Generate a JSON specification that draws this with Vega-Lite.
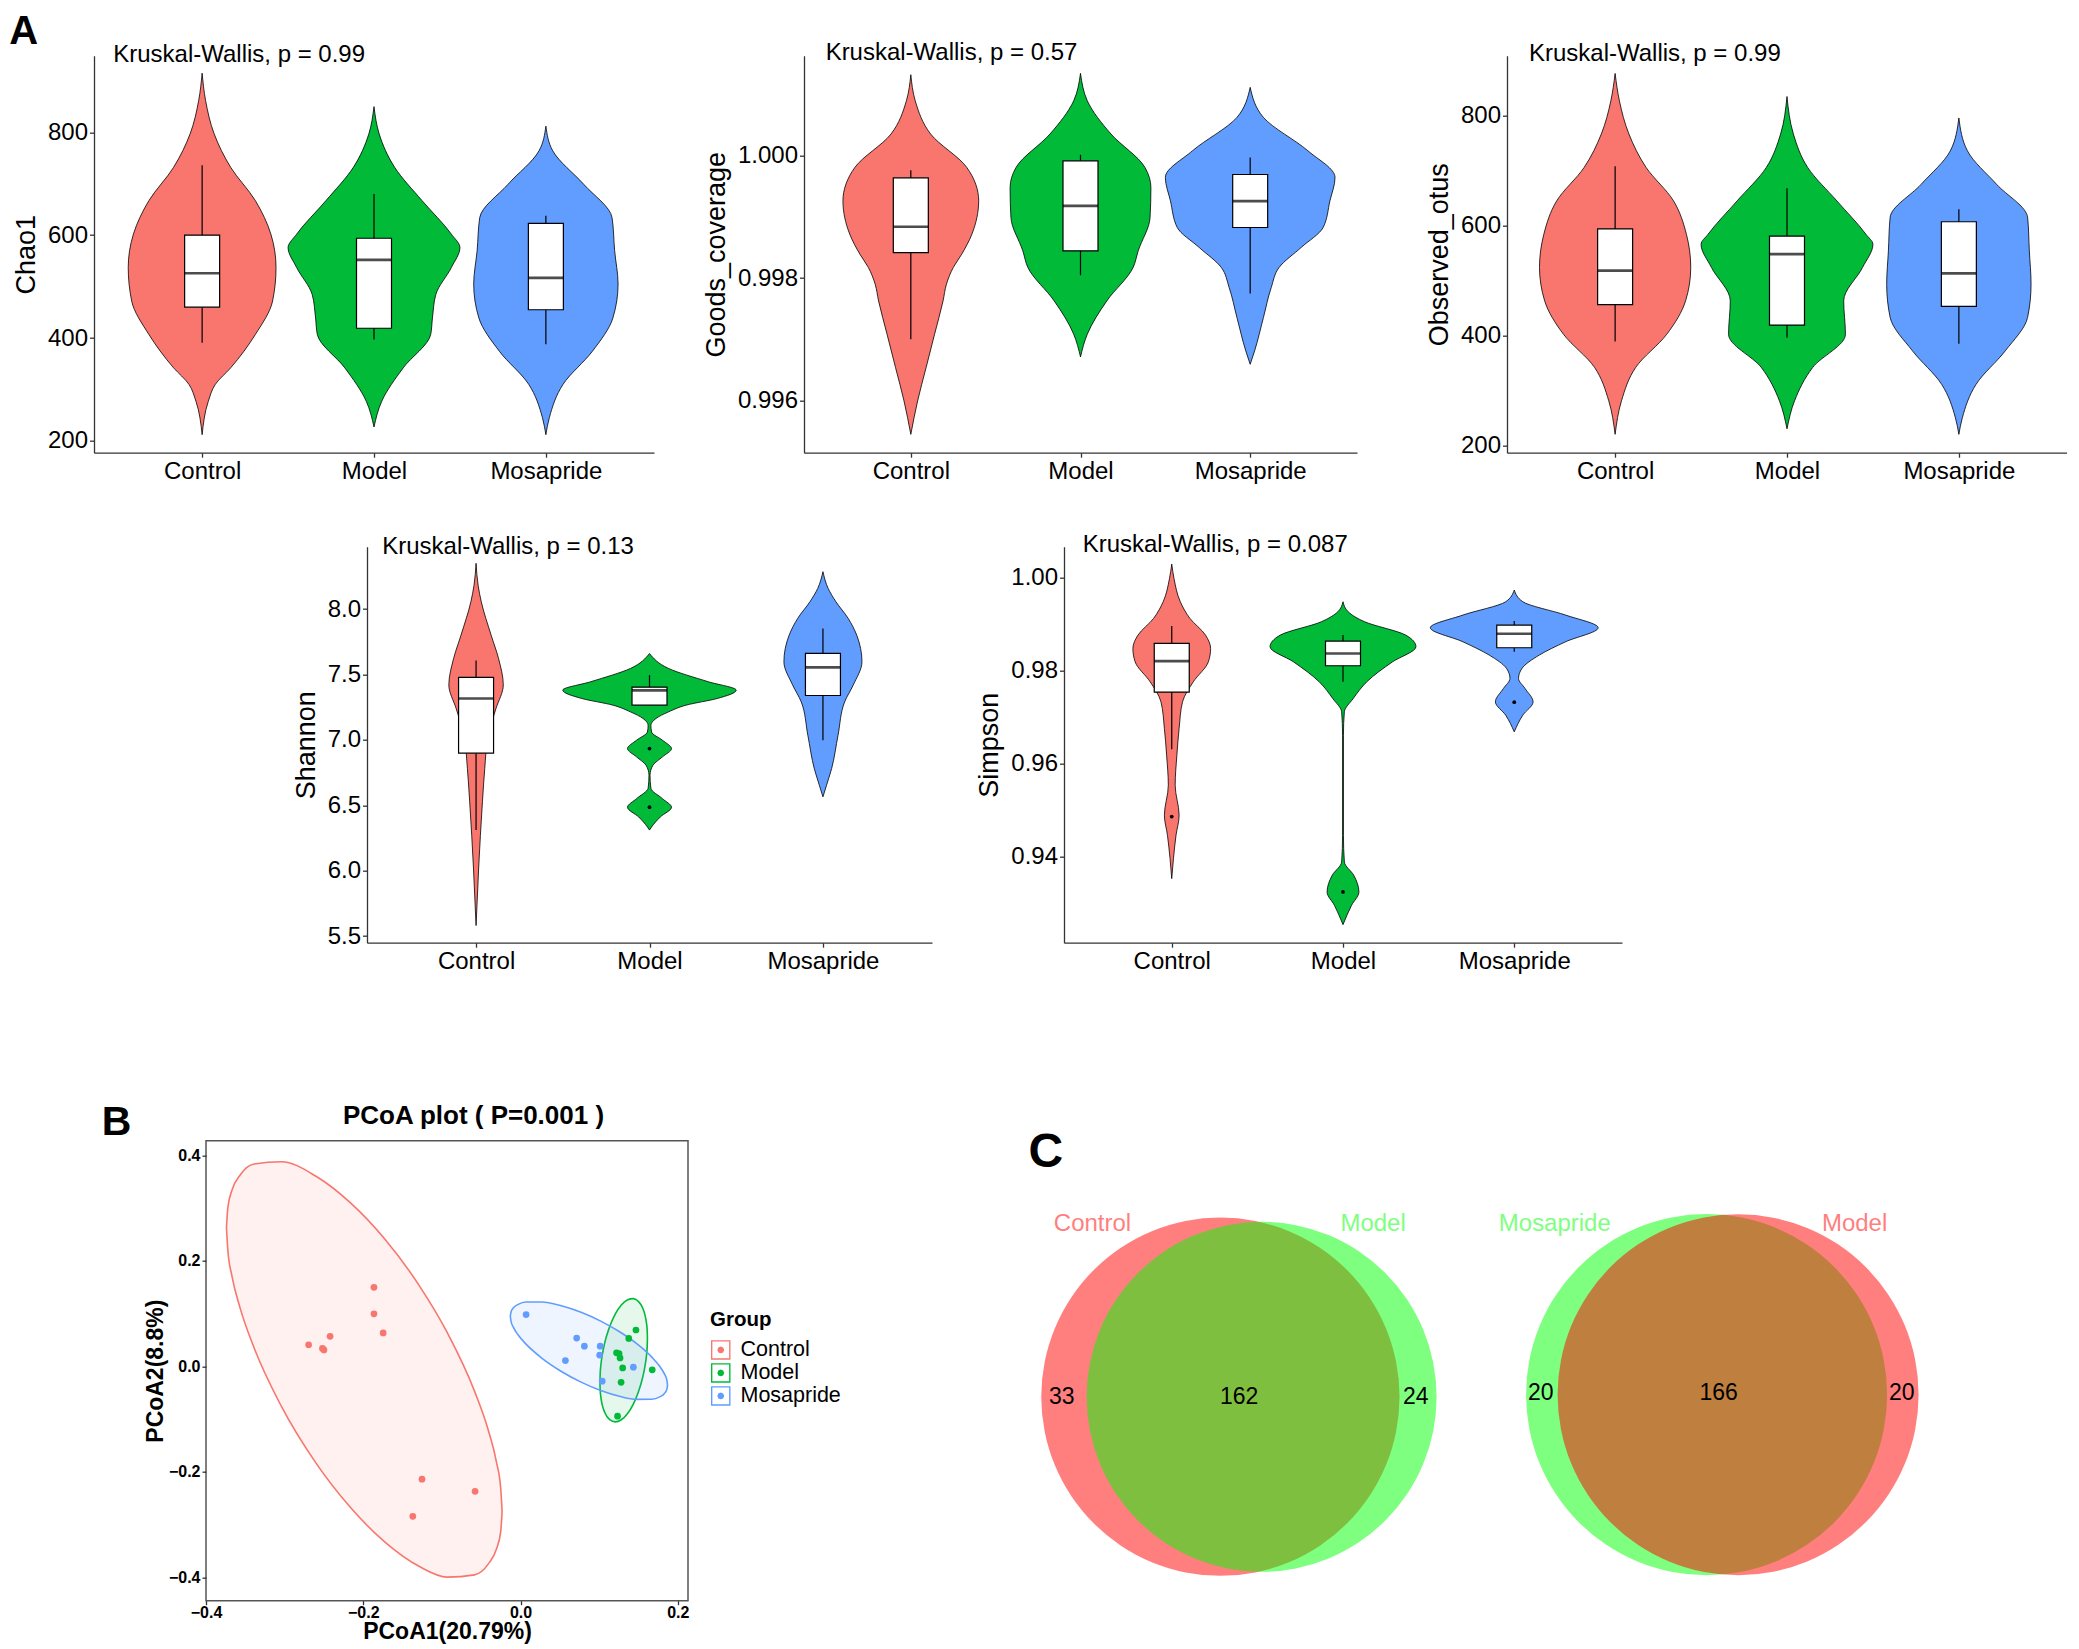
{
  "$schema": "https://vega.github.io/schema/vega-lite/v6.json",
  "autosize": {"type": "pad"},
  "padding": {"left": 9, "top": 11.7, "right": 0, "bottom": 0},
  "background": "white",
  "config": {
    "font": "Liberation Sans",
    "view": {"stroke": null},
    "axis": {"grid": false, "labelFont": "Liberation Sans", "titleFont": "Liberation Sans", "labelFontSize": 24, "titleFontSize": 27, "titleFontWeight": "normal", "labelColor": "black", "titleColor": "black", "domainColor": "#333333", "tickColor": "#333333", "domainWidth": 1.3, "tickWidth": 1.3, "tickSize": 4.5, "labelPadding": 2, "titlePadding": 7, "labelFlush": false},
    "legend": {"labelFont": "Liberation Sans", "titleFont": "Liberation Sans"},
    "text": {"font": "Liberation Sans", "color": "black"}
  },
  "datasets": {
    "violin": [
      {"m":"chao1","g":"Control","y":915,"lo":1,"hi":1},{"m":"chao1","g":"Control","y":862,"lo":0.98,"hi":1.02},{"m":"chao1","g":"Control","y":797,"lo":0.93,"hi":1.07},{"m":"chao1","g":"Control","y":732,"lo":0.834,"hi":1.166},{"m":"chao1","g":"Control","y":667,"lo":0.69,"hi":1.31},{"m":"chao1","g":"Control","y":602,"lo":0.6,"hi":1.4},{"m":"chao1","g":"Control","y":537,"lo":0.57,"hi":1.43},{"m":"chao1","g":"Control","y":472,"lo":0.59,"hi":1.41},{"m":"chao1","g":"Control","y":407,"lo":0.69,"hi":1.31},{"m":"chao1","g":"Control","y":342,"lo":0.834,"hi":1.166},{"m":"chao1","g":"Control","y":310,"lo":0.923,"hi":1.077},{"m":"chao1","g":"Control","y":277,"lo":0.964,"hi":1.036},{"m":"chao1","g":"Control","y":212,"lo":1,"hi":1},
      {"m":"chao1","g":"Model","y":850,"lo":2,"hi":2},{"m":"chao1","g":"Model","y":797,"lo":1.97,"hi":2.03},{"m":"chao1","g":"Model","y":732,"lo":1.88,"hi":2.12},{"m":"chao1","g":"Model","y":667,"lo":1.72,"hi":2.28},{"m":"chao1","g":"Model","y":602,"lo":1.55,"hi":2.45},{"m":"chao1","g":"Model","y":576,"lo":1.5,"hi":2.5},{"m":"chao1","g":"Model","y":537,"lo":1.55,"hi":2.45},{"m":"chao1","g":"Model","y":485,"lo":1.64,"hi":2.36},{"m":"chao1","g":"Model","y":439,"lo":1.66,"hi":2.34},{"m":"chao1","g":"Model","y":407,"lo":1.67,"hi":2.33},{"m":"chao1","g":"Model","y":342,"lo":1.83,"hi":2.17},{"m":"chao1","g":"Model","y":277,"lo":1.955,"hi":2.045},{"m":"chao1","g":"Model","y":227,"lo":2,"hi":2},
      {"m":"chao1","g":"Mosapride","y":812,"lo":3,"hi":3},{"m":"chao1","g":"Mosapride","y":764,"lo":2.96,"hi":3.04},{"m":"chao1","g":"Mosapride","y":699,"lo":2.78,"hi":3.22},{"m":"chao1","g":"Mosapride","y":634,"lo":2.615,"hi":3.385},{"m":"chao1","g":"Mosapride","y":570,"lo":2.6,"hi":3.4},{"m":"chao1","g":"Mosapride","y":505,"lo":2.58,"hi":3.42},{"m":"chao1","g":"Mosapride","y":439,"lo":2.61,"hi":3.39},{"m":"chao1","g":"Mosapride","y":374,"lo":2.73,"hi":3.27},{"m":"chao1","g":"Mosapride","y":310,"lo":2.9,"hi":3.1},{"m":"chao1","g":"Mosapride","y":245,"lo":2.98,"hi":3.02},{"m":"chao1","g":"Mosapride","y":212,"lo":3,"hi":3},
      {"m":"goods","g":"Control","y":1.001326,"lo":1,"hi":1},{"m":"goods","g":"Control","y":1.0009,"lo":0.974,"hi":1.026},{"m":"goods","g":"Control","y":1.000355,"lo":0.883,"hi":1.117},{"m":"goods","g":"Control","y":0.999809,"lo":0.67,"hi":1.33},{"m":"goods","g":"Control","y":0.999263,"lo":0.6,"hi":1.4},{"m":"goods","g":"Control","y":0.998718,"lo":0.64,"hi":1.36},{"m":"goods","g":"Control","y":0.99839,"lo":0.7,"hi":1.3},{"m":"goods","g":"Control","y":0.998172,"lo":0.75,"hi":1.25},{"m":"goods","g":"Control","y":0.997899,"lo":0.79,"hi":1.21},{"m":"goods","g":"Control","y":0.997626,"lo":0.81,"hi":1.19},{"m":"goods","g":"Control","y":0.997081,"lo":0.86,"hi":1.14},{"m":"goods","g":"Control","y":0.996535,"lo":0.91,"hi":1.09},{"m":"goods","g":"Control","y":0.995989,"lo":0.96,"hi":1.04},{"m":"goods","g":"Control","y":0.995443,"lo":1,"hi":1},
      {"m":"goods","g":"Model","y":1.001348,"lo":2,"hi":2},{"m":"goods","g":"Model","y":1.0009,"lo":1.96,"hi":2.04},{"m":"goods","g":"Model","y":1.000355,"lo":1.82,"hi":2.18},{"m":"goods","g":"Model","y":0.999809,"lo":1.62,"hi":2.38},{"m":"goods","g":"Model","y":0.999482,"lo":1.585,"hi":2.415},{"m":"goods","g":"Model","y":0.99899,"lo":1.59,"hi":2.41},{"m":"goods","g":"Model","y":0.998445,"lo":1.66,"hi":2.34},{"m":"goods","g":"Model","y":0.998172,"lo":1.69,"hi":2.31},{"m":"goods","g":"Model","y":0.997626,"lo":1.845,"hi":2.155},{"m":"goods","g":"Model","y":0.997081,"lo":1.96,"hi":2.04},{"m":"goods","g":"Model","y":0.99671,"lo":2,"hi":2},
      {"m":"goods","g":"Mosapride","y":1.001119,"lo":3,"hi":3},{"m":"goods","g":"Mosapride","y":1.000628,"lo":2.922,"hi":3.078},{"m":"goods","g":"Mosapride","y":1.000082,"lo":2.66,"hi":3.34},{"m":"goods","g":"Mosapride","y":0.999645,"lo":2.5,"hi":3.5},{"m":"goods","g":"Mosapride","y":0.999263,"lo":2.53,"hi":3.47},{"m":"goods","g":"Mosapride","y":0.998827,"lo":2.57,"hi":3.43},{"m":"goods","g":"Mosapride","y":0.998499,"lo":2.7,"hi":3.3},{"m":"goods","g":"Mosapride","y":0.998172,"lo":2.83,"hi":3.17},{"m":"goods","g":"Mosapride","y":0.997845,"lo":2.876,"hi":3.124},{"m":"goods","g":"Mosapride","y":0.997353,"lo":2.922,"hi":3.078},{"m":"goods","g":"Mosapride","y":0.996808,"lo":2.974,"hi":3.026},{"m":"goods","g":"Mosapride","y":0.996589,"lo":3,"hi":3},
      {"m":"otus","g":"Control","y":877,"lo":1,"hi":1},{"m":"otus","g":"Control","y":827,"lo":0.975,"hi":1.025},{"m":"otus","g":"Control","y":767,"lo":0.92,"hi":1.08},{"m":"otus","g":"Control","y":706,"lo":0.82,"hi":1.18},{"m":"otus","g":"Control","y":645,"lo":0.66,"hi":1.34},{"m":"otus","g":"Control","y":584,"lo":0.585,"hi":1.415},{"m":"otus","g":"Control","y":524,"lo":0.56,"hi":1.44},{"m":"otus","g":"Control","y":463,"lo":0.59,"hi":1.41},{"m":"otus","g":"Control","y":402,"lo":0.7,"hi":1.3},{"m":"otus","g":"Control","y":342,"lo":0.88,"hi":1.12},{"m":"otus","g":"Control","y":281,"lo":0.963,"hi":1.037},{"m":"otus","g":"Control","y":220,"lo":1,"hi":1},
      {"m":"otus","g":"Model","y":835,"lo":2,"hi":2},{"m":"otus","g":"Model","y":767,"lo":1.963,"hi":2.037},{"m":"otus","g":"Model","y":706,"lo":1.88,"hi":2.12},{"m":"otus","g":"Model","y":645,"lo":1.71,"hi":2.29},{"m":"otus","g":"Model","y":584,"lo":1.54,"hi":2.46},{"m":"otus","g":"Model","y":566,"lo":1.5,"hi":2.5},{"m":"otus","g":"Model","y":524,"lo":1.56,"hi":2.44},{"m":"otus","g":"Model","y":463,"lo":1.67,"hi":2.33},{"m":"otus","g":"Model","y":402,"lo":1.66,"hi":2.34},{"m":"otus","g":"Model","y":342,"lo":1.85,"hi":2.15},{"m":"otus","g":"Model","y":281,"lo":1.956,"hi":2.044},{"m":"otus","g":"Model","y":230,"lo":2,"hi":2},
      {"m":"otus","g":"Mosapride","y":796,"lo":3,"hi":3},{"m":"otus","g":"Mosapride","y":736,"lo":2.95,"hi":3.05},{"m":"otus","g":"Mosapride","y":675,"lo":2.78,"hi":3.22},{"m":"otus","g":"Mosapride","y":615,"lo":2.6,"hi":3.4},{"m":"otus","g":"Mosapride","y":554,"lo":2.59,"hi":3.41},{"m":"otus","g":"Mosapride","y":493,"lo":2.58,"hi":3.42},{"m":"otus","g":"Mosapride","y":433,"lo":2.6,"hi":3.4},{"m":"otus","g":"Mosapride","y":372,"lo":2.73,"hi":3.27},{"m":"otus","g":"Mosapride","y":311,"lo":2.9,"hi":3.1},{"m":"otus","g":"Mosapride","y":250,"lo":2.98,"hi":3.02},{"m":"otus","g":"Mosapride","y":220,"lo":3,"hi":3},
      {"m":"shannon","g":"Control","y":8.35,"lo":1,"hi":1},{"m":"shannon","g":"Control","y":8.18,"lo":0.988,"hi":1.012},{"m":"shannon","g":"Control","y":8.056,"lo":0.97,"hi":1.03},{"m":"shannon","g":"Control","y":7.8,"lo":0.913,"hi":1.087},{"m":"shannon","g":"Control","y":7.62,"lo":0.87,"hi":1.13},{"m":"shannon","g":"Control","y":7.42,"lo":0.843,"hi":1.157},{"m":"shannon","g":"Control","y":7.24,"lo":0.885,"hi":1.115},{"m":"shannon","g":"Control","y":7.04,"lo":0.93,"hi":1.07},{"m":"shannon","g":"Control","y":6.78,"lo":0.95,"hi":1.05},{"m":"shannon","g":"Control","y":6.53,"lo":0.963,"hi":1.037},{"m":"shannon","g":"Control","y":6.27,"lo":0.975,"hi":1.025},{"m":"shannon","g":"Control","y":6.02,"lo":0.985,"hi":1.015},{"m":"shannon","g":"Control","y":5.58,"lo":1,"hi":1},
      {"m":"shannon","g":"Model","y":7.66,"lo":2,"hi":2},{"m":"shannon","g":"Model","y":7.546,"lo":1.89,"hi":2.11},{"m":"shannon","g":"Model","y":7.444,"lo":1.66,"hi":2.34},{"m":"shannon","g":"Model","y":7.38,"lo":1.5,"hi":2.5},{"m":"shannon","g":"Model","y":7.316,"lo":1.61,"hi":2.39},{"m":"shannon","g":"Model","y":7.265,"lo":1.79,"hi":2.21},{"m":"shannon","g":"Model","y":7.214,"lo":1.89,"hi":2.11},{"m":"shannon","g":"Model","y":7.163,"lo":1.963,"hi":2.037},{"m":"shannon","g":"Model","y":7.112,"lo":1.992,"hi":2.008},{"m":"shannon","g":"Model","y":7.06,"lo":1.988,"hi":2.012},{"m":"shannon","g":"Model","y":6.997,"lo":1.925,"hi":2.075},{"m":"shannon","g":"Model","y":6.933,"lo":1.873,"hi":2.127},{"m":"shannon","g":"Model","y":6.87,"lo":1.925,"hi":2.075},{"m":"shannon","g":"Model","y":6.806,"lo":1.98,"hi":2.02},{"m":"shannon","g":"Model","y":6.73,"lo":1.997,"hi":2.003},{"m":"shannon","g":"Model","y":6.63,"lo":1.992,"hi":2.008},{"m":"shannon","g":"Model","y":6.55,"lo":1.925,"hi":2.075},{"m":"shannon","g":"Model","y":6.485,"lo":1.873,"hi":2.127},{"m":"shannon","g":"Model","y":6.41,"lo":1.938,"hi":2.062},{"m":"shannon","g":"Model","y":6.334,"lo":1.988,"hi":2.012},{"m":"shannon","g":"Model","y":6.31,"lo":2,"hi":2},
      {"m":"shannon","g":"Mosapride","y":8.286,"lo":3,"hi":3},{"m":"shannon","g":"Mosapride","y":8.158,"lo":2.97,"hi":3.03},{"m":"shannon","g":"Mosapride","y":8.056,"lo":2.925,"hi":3.075},{"m":"shannon","g":"Mosapride","y":7.93,"lo":2.855,"hi":3.145},{"m":"shannon","g":"Mosapride","y":7.8,"lo":2.805,"hi":3.195},{"m":"shannon","g":"Mosapride","y":7.597,"lo":2.775,"hi":3.225},{"m":"shannon","g":"Mosapride","y":7.42,"lo":2.825,"hi":3.175},{"m":"shannon","g":"Mosapride","y":7.29,"lo":2.875,"hi":3.125},{"m":"shannon","g":"Mosapride","y":7.035,"lo":2.913,"hi":3.087},{"m":"shannon","g":"Mosapride","y":6.78,"lo":2.95,"hi":3.05},{"m":"shannon","g":"Mosapride","y":6.65,"lo":2.98,"hi":3.02},{"m":"shannon","g":"Mosapride","y":6.564,"lo":3,"hi":3},
      {"m":"simpson","g":"Control","y":1.00294,"lo":1,"hi":1},{"m":"simpson","g":"Control","y":0.99986,"lo":0.987,"hi":1.013},{"m":"simpson","g":"Control","y":0.99483,"lo":0.95,"hi":1.05},{"m":"simpson","g":"Control","y":0.99125,"lo":0.894,"hi":1.106},{"m":"simpson","g":"Control","y":0.98766,"lo":0.803,"hi":1.197},{"m":"simpson","g":"Control","y":0.98479,"lo":0.773,"hi":1.227},{"m":"simpson","g":"Control","y":0.98192,"lo":0.786,"hi":1.214},{"m":"simpson","g":"Control","y":0.97761,"lo":0.874,"hi":1.126},{"m":"simpson","g":"Control","y":0.9733,"lo":0.937,"hi":1.063},{"m":"simpson","g":"Control","y":0.96757,"lo":0.957,"hi":1.043},{"m":"simpson","g":"Control","y":0.96182,"lo":0.97,"hi":1.03},{"m":"simpson","g":"Control","y":0.95537,"lo":0.98,"hi":1.02},{"m":"simpson","g":"Control","y":0.94891,"lo":0.957,"hi":1.043},{"m":"simpson","g":"Control","y":0.9446,"lo":0.975,"hi":1.025},{"m":"simpson","g":"Control","y":0.93958,"lo":0.99,"hi":1.01},{"m":"simpson","g":"Control","y":0.93527,"lo":1,"hi":1},
      {"m":"simpson","g":"Model","y":0.99483,"lo":2,"hi":2},{"m":"simpson","g":"Model","y":0.99268,"lo":1.97,"hi":2.03},{"m":"simpson","g":"Model","y":0.99053,"lo":1.874,"hi":2.126},{"m":"simpson","g":"Model","y":0.98766,"lo":1.634,"hi":2.366},{"m":"simpson","g":"Model","y":0.98515,"lo":1.574,"hi":2.426},{"m":"simpson","g":"Model","y":0.98192,"lo":1.71,"hi":2.29},{"m":"simpson","g":"Model","y":0.97761,"lo":1.861,"hi":2.139},{"m":"simpson","g":"Model","y":0.97402,"lo":1.94,"hi":2.06},{"m":"simpson","g":"Model","y":0.97115,"lo":1.992,"hi":2.008},{"m":"simpson","g":"Model","y":0.96613,"lo":1.9975,"hi":2.0025},{"m":"simpson","g":"Model","y":0.9446,"lo":1.9975,"hi":2.0025},{"m":"simpson","g":"Model","y":0.93886,"lo":1.992,"hi":2.008},{"m":"simpson","g":"Model","y":0.93599,"lo":1.937,"hi":2.063},{"m":"simpson","g":"Model","y":0.9324,"lo":1.907,"hi":2.093},{"m":"simpson","g":"Model","y":0.92953,"lo":1.95,"hi":2.05},{"m":"simpson","g":"Model","y":0.92537,"lo":2,"hi":2},
      {"m":"simpson","g":"Mosapride","y":0.99734,"lo":3,"hi":3},{"m":"simpson","g":"Mosapride","y":0.99483,"lo":2.95,"hi":3.05},{"m":"simpson","g":"Mosapride","y":0.99196,"lo":2.7,"hi":3.3},{"m":"simpson","g":"Mosapride","y":0.98924,"lo":2.51,"hi":3.49},{"m":"simpson","g":"Mosapride","y":0.98622,"lo":2.7,"hi":3.3},{"m":"simpson","g":"Mosapride","y":0.98335,"lo":2.854,"hi":3.146},{"m":"simpson","g":"Mosapride","y":0.98048,"lo":2.955,"hi":3.045},{"m":"simpson","g":"Mosapride","y":0.97833,"lo":2.975,"hi":3.025},{"m":"simpson","g":"Mosapride","y":0.97618,"lo":2.937,"hi":3.063},{"m":"simpson","g":"Mosapride","y":0.9733,"lo":2.89,"hi":3.11},{"m":"simpson","g":"Mosapride","y":0.97043,"lo":2.95,"hi":3.05},{"m":"simpson","g":"Mosapride","y":0.96685,"lo":3,"hi":3}
    ],
    "box": [
      {"m":"chao1","g":"Control","pos":1,"wlo":391,"q1":460,"med":526,"q3":600,"whi":736},
      {"m":"chao1","g":"Model","pos":2,"wlo":397,"q1":419,"med":552,"q3":594,"whi":680},
      {"m":"chao1","g":"Mosapride","pos":3,"wlo":388,"q1":455,"med":517,"q3":623,"whi":638},
      {"m":"goods","g":"Control","pos":1,"wlo":0.996999,"q1":0.998417,"med":0.998838,"q3":0.99964,"whi":0.999765},
      {"m":"goods","g":"Model","pos":2,"wlo":0.998046,"q1":0.998445,"med":0.999181,"q3":0.999918,"whi":1.000016},
      {"m":"goods","g":"Mosapride","pos":3,"wlo":0.997746,"q1":0.998827,"med":0.999258,"q3":0.999694,"whi":0.999973},
      {"m":"otus","g":"Control","pos":1,"wlo":389,"q1":456,"med":518,"q3":594,"whi":708},
      {"m":"otus","g":"Model","pos":2,"wlo":396,"q1":419,"med":548,"q3":581,"whi":668},
      {"m":"otus","g":"Mosapride","pos":3,"wlo":385,"q1":453,"med":513,"q3":607,"whi":630},
      {"m":"shannon","g":"Control","pos":1,"wlo":6.31,"q1":6.898,"med":7.316,"q3":7.477,"whi":7.607},
      {"m":"shannon","g":"Model","pos":2,"wlo":7.265,"q1":7.265,"med":7.378,"q3":7.403,"whi":7.495},
      {"m":"shannon","g":"Mosapride","pos":3,"wlo":6.997,"q1":7.339,"med":7.554,"q3":7.661,"whi":7.852},
      {"m":"simpson","g":"Control","pos":1,"wlo":0.96312,"q1":0.97539,"med":0.98206,"q3":0.98586,"whi":0.98959},
      {"m":"simpson","g":"Model","pos":2,"wlo":0.97761,"q1":0.98106,"med":0.98371,"q3":0.98637,"whi":0.98766},
      {"m":"simpson","g":"Mosapride","pos":3,"wlo":0.98407,"q1":0.98493,"med":0.98794,"q3":0.98981,"whi":0.99067}
    ],
    "outliers": [
      {"m":"shannon","g":"Model","pos":2,"v":6.933},
      {"m":"shannon","g":"Model","pos":2,"v":6.485},
      {"m":"simpson","g":"Control","pos":1,"v":0.94862},
      {"m":"simpson","g":"Model","pos":2,"v":0.9324},
      {"m":"simpson","g":"Mosapride","pos":3,"v":0.97323}
    ],
    "notes": [
      {"m":"chao1","x":0.483,"y":936,"t":"Kruskal-Wallis, p = 0.99"},
      {"m":"goods","x":0.498,"y":1.001567,"t":"Kruskal-Wallis, p = 0.57"},
      {"m":"otus","x":0.499,"y":900.2,"t":"Kruskal-Wallis, p = 0.99"},
      {"m":"shannon","x":0.459,"y":8.418,"t":"Kruskal-Wallis, p = 0.13"},
      {"m":"simpson","x":0.48,"y":1.00544,"t":"Kruskal-Wallis, p = 0.087"}
    ],
    "pts": [
      {"g":"Control","x":-0.1864,"y":0.15},{"g":"Control","x":-0.1864,"y":0.0998},{"g":"Control","x":-0.1747,"y":0.0635},{"g":"Control","x":-0.2422,"y":0.0572},{"g":"Control","x":-0.2695,"y":0.0412},{"g":"Control","x":-0.2519,"y":0.0342},{"g":"Control","x":-0.25,"y":0.0314},{"g":"Control","x":-0.1253,"y":-0.2136},{"g":"Control","x":-0.0578,"y":-0.2367},{"g":"Control","x":-0.137,"y":-0.2841},
      {"g":"Model","x":0.1468,"y":0.0691},{"g":"Model","x":0.1377,"y":0.0531},{"g":"Model","x":0.1221,"y":0.0258},{"g":"Model","x":0.1253,"y":0.0244},{"g":"Model","x":0.1266,"y":0.0161},{"g":"Model","x":0.1299,"y":-0.0028},{"g":"Model","x":0.1675,"y":-0.0063},{"g":"Model","x":0.1279,"y":-0.03},{"g":"Model","x":0.1234,"y":-0.0942},
      {"g":"Mosapride","x":0.0071,"y":0.0984},{"g":"Mosapride","x":0.0714,"y":0.0538},{"g":"Mosapride","x":0.0812,"y":0.0384},{"g":"Mosapride","x":0.1013,"y":0.0384},{"g":"Mosapride","x":0.1006,"y":0.0216},{"g":"Mosapride","x":0.0571,"y":0.0112},{"g":"Mosapride","x":0.1435,"y":-0.0014},{"g":"Mosapride","x":0.1039,"y":-0.0279}
    ],
    "ell": [
      {"g":"Control","x":-0.374,"yu":0.2635,"yl":0.2635},{"g":"Control","x":-0.3722,"yu":0.3017,"yl":0.2199},{"g":"Control","x":-0.367,"yu":0.334,"yl":0.1714},{"g":"Control","x":-0.3565,"yu":0.3631,"yl":0.1101},{"g":"Control","x":-0.3389,"yu":0.3838,"yl":0.0356},{"g":"Control","x":-0.3039,"yu":0.3881,"yl":-0.0763},{"g":"Control","x":-0.2601,"yu":0.3605,"yl":-0.1833},{"g":"Control","x":-0.2162,"yu":0.31,"yl":-0.2674},{"g":"Control","x":-0.1724,"yu":0.241,"yl":-0.333},{"g":"Control","x":-0.1286,"yu":0.1529,"yl":-0.3793},{"g":"Control","x":-0.0935,"yu":0.0651,"yl":-0.3993},{"g":"Control","x":-0.0585,"yu":-0.0468,"yl":-0.395},{"g":"Control","x":-0.0409,"yu":-0.1213,"yl":-0.3743},{"g":"Control","x":-0.0304,"yu":-0.1826,"yl":-0.3452},{"g":"Control","x":-0.0252,"yu":-0.2311,"yl":-0.3129},{"g":"Control","x":-0.0234,"yu":-0.2747,"yl":-0.2747},
      {"g":"Model","x":0.101,"yu":-0.0296,"yl":-0.0296},{"g":"Model","x":0.1013,"yu":-0.0138,"yl":-0.0446},{"g":"Model","x":0.1022,"yu":0.0027,"yl":-0.0585},{"g":"Model","x":0.104,"yu":0.0222,"yl":-0.0732},{"g":"Model","x":0.107,"yu":0.0443,"yl":-0.0869},{"g":"Model","x":0.1131,"yu":0.0744,"yl":-0.1004},{"g":"Model","x":0.1206,"yu":0.0998,"yl":-0.105},{"g":"Model","x":0.1282,"yu":0.1166,"yl":-0.101},{"g":"Model","x":0.1357,"yu":0.1262,"yl":-0.09},{"g":"Model","x":0.1433,"yu":0.1287,"yl":-0.0717},{"g":"Model","x":0.1493,"yu":0.1242,"yl":-0.0506},{"g":"Model","x":0.1554,"yu":0.1107,"yl":-0.0205},{"g":"Model","x":0.1584,"yu":0.097,"yl":0.0016},{"g":"Model","x":0.1602,"yu":0.0823,"yl":0.0211},{"g":"Model","x":0.1611,"yu":0.0684,"yl":0.0376},{"g":"Model","x":0.1614,"yu":0.0534,"yl":0.0534},
      {"g":"Mosapride","x":-0.013,"yu":0.0952,"yl":0.0952},{"g":"Mosapride","x":-0.012,"yu":0.1039,"yl":0.0851},{"g":"Mosapride","x":-0.009,"yu":0.1112,"yl":0.074},{"g":"Mosapride","x":-0.003,"yu":0.1177,"yl":0.0597},{"g":"Mosapride","x":0.007,"yu":0.1221,"yl":0.0423},{"g":"Mosapride","x":0.027,"yu":0.1223,"yl":0.0159},{"g":"Mosapride","x":0.052,"yu":0.1151,"yl":-0.0095},{"g":"Mosapride","x":0.077,"yu":0.1027,"yl":-0.0297},{"g":"Mosapride","x":0.102,"yu":0.086,"yl":-0.0456},{"g":"Mosapride","x":0.127,"yu":0.0649,"yl":-0.0571},{"g":"Mosapride","x":0.147,"yu":0.0441,"yl":-0.0623},{"g":"Mosapride","x":0.167,"yu":0.0177,"yl":-0.0621},{"g":"Mosapride","x":0.177,"yu":0.0003,"yl":-0.0577},{"g":"Mosapride","x":0.183,"yu":-0.014,"yl":-0.0512},{"g":"Mosapride","x":0.186,"yu":-0.0251,"yl":-0.0439},{"g":"Mosapride","x":0.187,"yu":-0.0352,"yl":-0.0352}
    ],
    "venn": [
      {"c":"L1","set":"Control","x":4.324,"y":2.04},
      {"c":"L2","set":"Model","x":4.736,"y":2.039},
      {"c":"R1","set":"Mosapride","x":9.186,"y":2.06},
      {"c":"R2","set":"Model","x":9.501,"y":2.06}
    ],
    "vennNum": [
      {"x":2.738,"y":2.041,"t":"33"},{"x":4.511,"y":2.041,"t":"162"},{"x":6.278,"y":2.041,"t":"24"},
      {"x":7.528,"y":2.075,"t":"20"},{"x":9.307,"y":2.075,"t":"166"},{"x":11.138,"y":2.075,"t":"20"}
    ],
    "vennLab": [
      {"side":"left","t":"Control","x":3.045,"y":3.765},
      {"side":"left","t":"Model","x":5.851,"y":3.765},
      {"side":"right","t":"Mosapride","x":7.668,"y":3.765},
      {"side":"right","t":"Model","x":10.666,"y":3.765}
    ]
  },
  "spacing": 0,
  "resolve": {"scale": {"color": "independent", "stroke": "independent", "fill": "independent"}, "legend": {"color": "independent"}},
  "vconcat": [
    {
      "hconcat": [
        {
          "width": 560, "height": 397,
          "layer": [
            {"data": {"name": "violin"}, "transform": [{"filter": "datum.m == 'chao1'"}],
             "mark": {"type": "area", "orient": "horizontal", "interpolate": "monotone", "stroke": "black", "strokeWidth": 0.8},
             "encoding": {
               "y": {"field": "y", "type": "quantitative", "scale": {"domain": [177, 949], "nice": false, "zero": false}, "axis": {"title": "Chao1", "values": [200, 400, 600, 800], "format": "d"}},
               "x": {"field": "lo", "type": "quantitative", "scale": {"domain": [0.4, 3.6], "nice": false, "zero": false}, "axis": {"title": null, "values": [1, 2, 3], "labelExpr": "datum.value == 1 ? 'Control' : datum.value == 2 ? 'Model' : 'Mosapride'"}},
               "x2": {"field": "hi"},
               "color": {"field": "g", "type": "nominal", "scale": {"domain": ["Control", "Model", "Mosapride"], "range": ["#F8766D", "#00BA38", "#619CFF"]}, "legend": null}
             }},
            {"data": {"name": "box"}, "transform": [{"filter": "datum.m == 'chao1'"}],
             "mark": {"type": "rule", "color": "black", "strokeWidth": 1.2},
             "encoding": {"x": {"field": "pos", "type": "quantitative"}, "y": {"field": "wlo", "type": "quantitative"}, "y2": {"field": "whi"}}},
            {"data": {"name": "box"}, "transform": [{"filter": "datum.m == 'chao1'"}],
             "mark": {"type": "bar", "fill": "white", "stroke": "black", "strokeWidth": 1.2, "width": 35},
             "encoding": {"x": {"field": "pos", "type": "quantitative"}, "y": {"field": "q1", "type": "quantitative"}, "y2": {"field": "q3"}}},
            {"data": {"name": "box"}, "transform": [{"filter": "datum.m == 'chao1'"}],
             "mark": {"type": "tick", "orient": "horizontal", "color": "black", "thickness": 2.6, "size": 35},
             "encoding": {"x": {"field": "pos", "type": "quantitative"}, "y": {"field": "med", "type": "quantitative"}}},
            {"data": {"name": "notes"}, "transform": [{"filter": "datum.m == 'chao1'"}],
             "mark": {"type": "text", "align": "left", "baseline": "alphabetic", "fontSize": 24},
             "encoding": {"x": {"field": "x", "type": "quantitative"}, "y": {"field": "y", "type": "quantitative"}, "text": {"field": "t"}}},
            {"data": {"values": [{"x": -0.122, "y": 971.8, "t": "A"}]},
             "mark": {"type": "text", "align": "left", "baseline": "alphabetic", "fontSize": 40, "fontWeight": "bold"},
             "encoding": {"x": {"field": "x", "type": "quantitative"}, "y": {"field": "y", "type": "quantitative"}, "text": {"field": "t"}}}
          ]
        },
        {
          "width": 553, "height": 397,
          "layer": [
            {"data": {"name": "violin"}, "transform": [{"filter": "datum.m == 'goods'"}],
             "mark": {"type": "area", "orient": "horizontal", "interpolate": "monotone", "stroke": "black", "strokeWidth": 0.8},
             "encoding": {
               "y": {"field": "y", "type": "quantitative", "scale": {"domain": [0.995143, 1.001637], "nice": false, "zero": false}, "axis": {"title": "Goods_coverage", "values": [0.996, 0.998, 1.0], "format": ".3f"}},
               "x": {"field": "lo", "type": "quantitative", "scale": {"domain": [0.4, 3.6], "nice": false, "zero": false}, "axis": {"title": null, "values": [1, 2, 3], "labelExpr": "datum.value == 1 ? 'Control' : datum.value == 2 ? 'Model' : 'Mosapride'"}},
               "x2": {"field": "hi"},
               "color": {"field": "g", "type": "nominal", "scale": {"domain": ["Control", "Model", "Mosapride"], "range": ["#F8766D", "#00BA38", "#619CFF"]}, "legend": null}
             }},
            {"data": {"name": "box"}, "transform": [{"filter": "datum.m == 'goods'"}],
             "mark": {"type": "rule", "color": "black", "strokeWidth": 1.2},
             "encoding": {"x": {"field": "pos", "type": "quantitative"}, "y": {"field": "wlo", "type": "quantitative"}, "y2": {"field": "whi"}}},
            {"data": {"name": "box"}, "transform": [{"filter": "datum.m == 'goods'"}],
             "mark": {"type": "bar", "fill": "white", "stroke": "black", "strokeWidth": 1.2, "width": 35},
             "encoding": {"x": {"field": "pos", "type": "quantitative"}, "y": {"field": "q1", "type": "quantitative"}, "y2": {"field": "q3"}}},
            {"data": {"name": "box"}, "transform": [{"filter": "datum.m == 'goods'"}],
             "mark": {"type": "tick", "orient": "horizontal", "color": "black", "thickness": 2.6, "size": 35},
             "encoding": {"x": {"field": "pos", "type": "quantitative"}, "y": {"field": "med", "type": "quantitative"}}},
            {"data": {"name": "notes"}, "transform": [{"filter": "datum.m == 'goods'"}],
             "mark": {"type": "text", "align": "left", "baseline": "alphabetic", "fontSize": 24},
             "encoding": {"x": {"field": "x", "type": "quantitative"}, "y": {"field": "y", "type": "quantitative"}, "text": {"field": "t"}}}
          ]
        },
        {
          "width": 560, "height": 397,
          "layer": [
            {"data": {"name": "violin"}, "transform": [{"filter": "datum.m == 'otus'"}],
             "mark": {"type": "area", "orient": "horizontal", "interpolate": "monotone", "stroke": "black", "strokeWidth": 0.8},
             "encoding": {
               "y": {"field": "y", "type": "quantitative", "scale": {"domain": [186.6, 909.3], "nice": false, "zero": false}, "axis": {"title": "Observed_otus", "values": [200, 400, 600, 800], "format": "d"}},
               "x": {"field": "lo", "type": "quantitative", "scale": {"domain": [0.4, 3.6], "nice": false, "zero": false}, "axis": {"title": null, "values": [1, 2, 3], "labelExpr": "datum.value == 1 ? 'Control' : datum.value == 2 ? 'Model' : 'Mosapride'"}},
               "x2": {"field": "hi"},
               "color": {"field": "g", "type": "nominal", "scale": {"domain": ["Control", "Model", "Mosapride"], "range": ["#F8766D", "#00BA38", "#619CFF"]}, "legend": null}
             }},
            {"data": {"name": "box"}, "transform": [{"filter": "datum.m == 'otus'"}],
             "mark": {"type": "rule", "color": "black", "strokeWidth": 1.2},
             "encoding": {"x": {"field": "pos", "type": "quantitative"}, "y": {"field": "wlo", "type": "quantitative"}, "y2": {"field": "whi"}}},
            {"data": {"name": "box"}, "transform": [{"filter": "datum.m == 'otus'"}],
             "mark": {"type": "bar", "fill": "white", "stroke": "black", "strokeWidth": 1.2, "width": 35},
             "encoding": {"x": {"field": "pos", "type": "quantitative"}, "y": {"field": "q1", "type": "quantitative"}, "y2": {"field": "q3"}}},
            {"data": {"name": "box"}, "transform": [{"filter": "datum.m == 'otus'"}],
             "mark": {"type": "tick", "orient": "horizontal", "color": "black", "thickness": 2.6, "size": 35},
             "encoding": {"x": {"field": "pos", "type": "quantitative"}, "y": {"field": "med", "type": "quantitative"}}},
            {"data": {"name": "notes"}, "transform": [{"filter": "datum.m == 'otus'"}],
             "mark": {"type": "text", "align": "left", "baseline": "alphabetic", "fontSize": 24},
             "encoding": {"x": {"field": "x", "type": "quantitative"}, "y": {"field": "y", "type": "quantitative"}, "text": {"field": "t"}}}
          ]
        }
      ],
      "spacing": 150,
      "bounds": "flush",
      "resolve": {"scale": {"color": "independent"}}
    },
    {"width": 10, "height": 48.8, "data": {"values": []}, "mark": "point", "encoding": {}},
    {
      "hconcat": [
        {"width": 140.7, "height": 10, "data": {"values": []}, "mark": "point", "encoding": {}},
        {
          "width": 565, "height": 396,
          "layer": [
            {"data": {"name": "violin"}, "transform": [{"filter": "datum.m == 'shannon'"}],
             "mark": {"type": "area", "orient": "horizontal", "interpolate": "monotone", "stroke": "black", "strokeWidth": 0.8},
             "encoding": {
               "y": {"field": "y", "type": "quantitative", "scale": {"domain": [5.449, 8.477], "nice": false, "zero": false}, "axis": {"title": "Shannon", "values": [5.5, 6.0, 6.5, 7.0, 7.5, 8.0], "format": ".1f"}},
               "x": {"field": "lo", "type": "quantitative", "scale": {"domain": [0.4, 3.6], "nice": false, "zero": false}, "axis": {"title": null, "values": [1, 2, 3], "labelExpr": "datum.value == 1 ? 'Control' : datum.value == 2 ? 'Model' : 'Mosapride'"}},
               "x2": {"field": "hi"},
               "color": {"field": "g", "type": "nominal", "scale": {"domain": ["Control", "Model", "Mosapride"], "range": ["#F8766D", "#00BA38", "#619CFF"]}, "legend": null}
             }},
            {"data": {"name": "box"}, "transform": [{"filter": "datum.m == 'shannon'"}],
             "mark": {"type": "rule", "color": "black", "strokeWidth": 1.2},
             "encoding": {"x": {"field": "pos", "type": "quantitative"}, "y": {"field": "wlo", "type": "quantitative"}, "y2": {"field": "whi"}}},
            {"data": {"name": "box"}, "transform": [{"filter": "datum.m == 'shannon'"}],
             "mark": {"type": "bar", "fill": "white", "stroke": "black", "strokeWidth": 1.2, "width": 35},
             "encoding": {"x": {"field": "pos", "type": "quantitative"}, "y": {"field": "q1", "type": "quantitative"}, "y2": {"field": "q3"}}},
            {"data": {"name": "box"}, "transform": [{"filter": "datum.m == 'shannon'"}],
             "mark": {"type": "tick", "orient": "horizontal", "color": "black", "thickness": 2.6, "size": 35},
             "encoding": {"x": {"field": "pos", "type": "quantitative"}, "y": {"field": "med", "type": "quantitative"}}},
            {"data": {"name": "outliers"}, "transform": [{"filter": "datum.m == 'shannon'"}],
             "mark": {"type": "point", "filled": true, "color": "black", "size": 14, "opacity": 1},
             "encoding": {"x": {"field": "pos", "type": "quantitative"}, "y": {"field": "v", "type": "quantitative"}}},
            {"data": {"name": "notes"}, "transform": [{"filter": "datum.m == 'shannon'"}],
             "mark": {"type": "text", "align": "left", "baseline": "alphabetic", "fontSize": 24},
             "encoding": {"x": {"field": "x", "type": "quantitative"}, "y": {"field": "y", "type": "quantitative"}, "text": {"field": "t"}}}
          ]
        },
        {
          "width": 558, "height": 396,
          "layer": [
            {"data": {"name": "violin"}, "transform": [{"filter": "datum.m == 'simpson'"}],
             "mark": {"type": "area", "orient": "horizontal", "interpolate": "monotone", "stroke": "black", "strokeWidth": 0.8},
             "encoding": {
               "y": {"field": "y", "type": "quantitative", "scale": {"domain": [0.92149, 1.00667], "nice": false, "zero": false}, "axis": {"title": "Simpson", "values": [0.94, 0.96, 0.98, 1.0], "format": ".2f"}},
               "x": {"field": "lo", "type": "quantitative", "scale": {"domain": [0.4, 3.6], "nice": false, "zero": false}, "axis": {"title": null, "values": [1, 2, 3], "labelExpr": "datum.value == 1 ? 'Control' : datum.value == 2 ? 'Model' : 'Mosapride'"}},
               "x2": {"field": "hi"},
               "color": {"field": "g", "type": "nominal", "scale": {"domain": ["Control", "Model", "Mosapride"], "range": ["#F8766D", "#00BA38", "#619CFF"]}, "legend": null}
             }},
            {"data": {"name": "box"}, "transform": [{"filter": "datum.m == 'simpson'"}],
             "mark": {"type": "rule", "color": "black", "strokeWidth": 1.2},
             "encoding": {"x": {"field": "pos", "type": "quantitative"}, "y": {"field": "wlo", "type": "quantitative"}, "y2": {"field": "whi"}}},
            {"data": {"name": "box"}, "transform": [{"filter": "datum.m == 'simpson'"}],
             "mark": {"type": "bar", "fill": "white", "stroke": "black", "strokeWidth": 1.2, "width": 35},
             "encoding": {"x": {"field": "pos", "type": "quantitative"}, "y": {"field": "q1", "type": "quantitative"}, "y2": {"field": "q3"}}},
            {"data": {"name": "box"}, "transform": [{"filter": "datum.m == 'simpson'"}],
             "mark": {"type": "tick", "orient": "horizontal", "color": "black", "thickness": 2.6, "size": 35},
             "encoding": {"x": {"field": "pos", "type": "quantitative"}, "y": {"field": "med", "type": "quantitative"}}},
            {"data": {"name": "outliers"}, "transform": [{"filter": "datum.m == 'simpson'"}],
             "mark": {"type": "point", "filled": true, "color": "black", "size": 14, "opacity": 1},
             "encoding": {"x": {"field": "pos", "type": "quantitative"}, "y": {"field": "v", "type": "quantitative"}}},
            {"data": {"name": "notes"}, "transform": [{"filter": "datum.m == 'simpson'"}],
             "mark": {"type": "text", "align": "left", "baseline": "alphabetic", "fontSize": 24},
             "encoding": {"x": {"field": "x", "type": "quantitative"}, "y": {"field": "y", "type": "quantitative"}, "text": {"field": "t"}}}
          ]
        }
      ],
      "spacing": 132,
      "bounds": "flush",
      "resolve": {"scale": {"color": "independent"}}
    },
    {"width": 10, "height": 126.4, "data": {"values": []}, "mark": "point", "encoding": {}},
    {
      "hconcat": [
        {"width": 12, "height": 10, "data": {"values": []}, "mark": "point", "encoding": {}},
        {
          "width": 482, "height": 460,
          "view": {"stroke": "#555555", "strokeWidth": 1.5},
          "layer": [
            {"data": {"name": "ell"},
             "mark": {"type": "area", "interpolate": "monotone", "fillOpacity": 0.1, "strokeWidth": 1.6},
             "encoding": {
               "x": {"field": "x", "type": "quantitative", "scale": {"domain": [-0.4, 0.213], "nice": false, "zero": false}, "axis": {"title": "PCoA1(20.79%)", "values": [-0.4, -0.2, 0, 0.2], "format": ".1f", "domain": false, "labelFontSize": 16, "labelFontWeight": "bold", "titleFontSize": 23, "titleFontWeight": "bold", "tickSize": 4, "labelPadding": 0, "titlePadding": 0}},
               "y": {"field": "yu", "type": "quantitative", "scale": {"domain": [-0.444, 0.428], "nice": false, "zero": false}, "axis": {"title": "PCoA2(8.8%)", "values": [-0.4, -0.2, 0, 0.2, 0.4], "format": ".1f", "domain": false, "labelFontSize": 16, "labelFontWeight": "bold", "titleFontSize": 23, "titleFontWeight": "bold", "tickSize": 4, "labelPadding": 2, "titlePadding": 1}},
               "y2": {"field": "yl"},
               "fill": {"field": "g", "type": "nominal", "scale": {"domain": ["Mosapride", "Model", "Control"], "range": ["#619CFF", "#00BA38", "#F8766D"]}, "legend": null},
               "stroke": {"field": "g", "type": "nominal", "scale": {"domain": ["Model", "Mosapride", "Control"], "range": ["#00BA38", "#619CFF", "#F8766D"]}, "legend": null}
             }},
            {"data": {"name": "pts"},
             "mark": {"type": "point", "filled": true, "size": 45, "opacity": 1},
             "encoding": {
               "x": {"field": "x", "type": "quantitative"},
               "y": {"field": "y", "type": "quantitative"},
               "color": {"field": "g", "type": "nominal", "scale": {"domain": ["Control", "Model", "Mosapride"], "range": ["#F8766D", "#00BA38", "#619CFF"]},
                 "legend": {"title": "Group", "orient": "none", "legendX": 504, "legendY": 169, "symbolType": "M-1,-1L1,-1L1,1L-1,1Z M-0.86,-0.86L-0.86,0.86L0.86,0.86L0.86,-0.86Z M-0.35,0L-0.25,-0.25L0,-0.35L0.25,-0.25L0.35,0L0.25,0.25L0,0.35L-0.25,0.25Z", "symbolSize": 380, "symbolStrokeWidth": 0, "labelFontSize": 21.5, "titleFontSize": 20.5, "titleFontWeight": "bold", "rowPadding": 0, "titlePadding": 9, "labelOffset": 9, "labelColor": "black", "titleColor": "black"}}
             }},
            {"data": {"values": [{"x": -0.0598, "y": 0.4591, "t": "PCoA plot ( P=0.001 )"}]},
             "mark": {"type": "text", "align": "center", "baseline": "alphabetic", "fontSize": 26, "fontWeight": "bold"},
             "encoding": {"x": {"field": "x", "type": "quantitative"}, "y": {"field": "y", "type": "quantitative"}, "text": {"field": "t"}}},
            {"data": {"values": [{"x": -0.5327, "y": 0.4383, "t": "B"}]},
             "mark": {"type": "text", "align": "left", "baseline": "alphabetic", "fontSize": 41, "fontWeight": "bold"},
             "encoding": {"x": {"field": "x", "type": "quantitative"}, "y": {"field": "y", "type": "quantitative"}, "text": {"field": "t"}}}
          ]
        },
        {
          "width": 1206, "height": 460,
          "layer": [
            {"data": {"name": "venn"}, "transform": [{"filter": "datum.c == 'L1'"}],
             "mark": {"type": "point", "shape": "circle", "filled": true, "color": "#FF0000", "opacity": 0.5, "size": 128379},
             "encoding": {
               "x": {"field": "x", "type": "quantitative", "scale": {"domain": [0, 12.06], "nice": false, "zero": false}, "axis": null},
               "y": {"field": "y", "type": "quantitative", "scale": {"domain": [0, 4.6], "nice": false, "zero": false}, "axis": null}
             }},
            {"data": {"name": "venn"}, "transform": [{"filter": "datum.c == 'L2'"}],
             "mark": {"type": "point", "shape": "circle", "filled": true, "color": "#00FF00", "opacity": 0.5, "size": 122500},
             "encoding": {"x": {"field": "x", "type": "quantitative"}, "y": {"field": "y", "type": "quantitative"}}},
            {"data": {"name": "venn"}, "transform": [{"filter": "datum.c == 'R1'"}],
             "mark": {"type": "point", "shape": "circle", "filled": true, "color": "#00FF00", "opacity": 0.5, "size": 130393},
             "encoding": {"x": {"field": "x", "type": "quantitative"}, "y": {"field": "y", "type": "quantitative"}}},
            {"data": {"name": "venn"}, "transform": [{"filter": "datum.c == 'R2'"}],
             "mark": {"type": "point", "shape": "circle", "filled": true, "color": "#FF0000", "opacity": 0.5, "size": 130321},
             "encoding": {"x": {"field": "x", "type": "quantitative"}, "y": {"field": "y", "type": "quantitative"}}},
            {"data": {"name": "vennNum"},
             "mark": {"type": "text", "align": "center", "baseline": "middle", "fontSize": 23, "color": "black"},
             "encoding": {"x": {"field": "x", "type": "quantitative"}, "y": {"field": "y", "type": "quantitative"}, "text": {"field": "t"}}},
            {"data": {"name": "vennLab"}, "transform": [{"filter": "(datum.side == 'left' && datum.t == 'Control') || (datum.side == 'right' && datum.t == 'Model')"}],
             "mark": {"type": "text", "align": "center", "baseline": "middle", "fontSize": 24, "color": "#FF7F7F"},
             "encoding": {"x": {"field": "x", "type": "quantitative"}, "y": {"field": "y", "type": "quantitative"}, "text": {"field": "t"}}},
            {"data": {"name": "vennLab"}, "transform": [{"filter": "(datum.side == 'left' && datum.t == 'Model') || (datum.side == 'right' && datum.t == 'Mosapride')"}],
             "mark": {"type": "text", "align": "center", "baseline": "middle", "fontSize": 24, "color": "#7FFF7F"},
             "encoding": {"x": {"field": "x", "type": "quantitative"}, "y": {"field": "y", "type": "quantitative"}, "text": {"field": "t"}}},
            {"data": {"values": [{"x": 2.406, "y": 4.34, "t": "C"}]},
             "mark": {"type": "text", "align": "left", "baseline": "alphabetic", "fontSize": 48, "fontWeight": "bold"},
             "encoding": {"x": {"field": "x", "type": "quantitative"}, "y": {"field": "y", "type": "quantitative"}, "text": {"field": "t"}}}
          ]
        }
      ],
      "spacing": 100,
      "bounds": "flush",
      "resolve": {"scale": {"color": "independent", "stroke": "independent", "fill": "independent"}, "legend": {"color": "independent"}}
    }
  ]
}
